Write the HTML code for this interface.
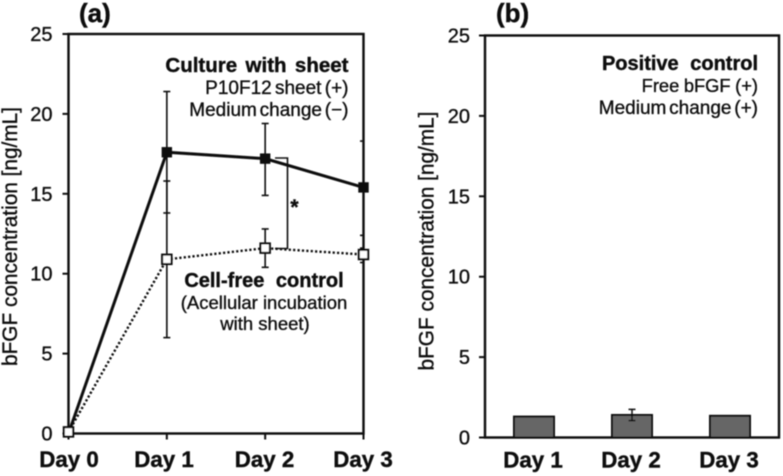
<!DOCTYPE html>
<html lang="en">
<head>
<meta charset="utf-8">
<title>bFGF concentration charts</title>
<style>
html,body{margin:0;padding:0;background:#fff;}
body{width:783px;height:476px;overflow:hidden;}
svg{display:block;font-family:"Liberation Sans",sans-serif;fill:#111;}
svg text{fill:#111;}
</style>
</head>
<body>
<svg id="chart" width="783" height="476" viewBox="0 0 783 476" xmlns="http://www.w3.org/2000/svg">
  <defs><filter id="soft" x="-2%" y="-2%" width="104%" height="104%"><feGaussianBlur stdDeviation="0.4"/></filter></defs>
  <g id="root" filter="url(#soft)"></g>
</svg>
<script>
const yTicks = [0, 5, 10, 15, 20, 25];
const daysA = ['Day 0', 'Day 1', 'Day 2', 'Day 3'];
const sheetMean = [0, 17.6, 17.2, 15.4];
const sheetUpper = [0, 21.4, 19.4, 18.3];
const sheetLower = [0, 13.8, 14.9, 12.4];
const freeMean = [0.1, 10.9, 11.6, 11.2];
const freeUpper = [0.1, 15.8, 12.8, 11.6];
const freeLower = [0.1, 6.0, 10.4, 10.7];
const daysB = ['Day 1', 'Day 2', 'Day 3'];
const barValues = [1.3, 1.4, 1.35];
const barUpper = [1.3, 1.75, 1.35];
const barLower = [1.3, 1.05, 1.35];

const NS = 'http://www.w3.org/2000/svg';
const root = document.getElementById('root');
function make(tag, attrs, name, text) {
  const el = document.createElementNS(NS, tag);
  for (const k in attrs) el.setAttribute(k, attrs[k]);
  
  
  if (text !== undefined) el.textContent = text;
  root.appendChild(el);
  return el;
}
function line(x1, y1, x2, y2, w, name) {
  return make('line', {x1, y1, x2, y2, stroke: '#111', 'stroke-width': w}, name);
}
function label(x, y, str, size, weight, anchor, name, wordSpacing) {
  const el = make('text', {x, y, 'font-size': size, 'font-weight': weight, 'text-anchor': anchor}, name, str);
  el.setAttribute('stroke', '#111');
  el.setAttribute('stroke-width', weight === 400 ? '0.35' : '0.4');
  if (wordSpacing) el.setAttribute('word-spacing', wordSpacing);
  return el;
}

/* Panel (a) axes */
const aL = 68.5, aR = 363.5, aT = 34, aB = 433.5;
const ya = v => aB - (v / 25) * (aB - aT);
const xa = i => aL + (i / 3) * (aR - aL);

/* Panel (b) axes */
const bL = 485, bR = 779, bT = 35.5, bB = 437.5;
const yb = v => bB - (v / 25) * (bB - bT);
const xb = i => 534 + i * 98;

function frame(L, R, T, B, yFn, prefix, gap) {
  make('rect', {x: L, y: T, width: R - L, height: B - T, fill: 'none', stroke: '#111', 'stroke-width': 2.4}, prefix + '-plot-frame');
  yTicks.forEach(t => {
    line(L - 6, yFn(t), L, yFn(t), 2, prefix + '-y-tick-' + t);
    label(L - gap, yFn(t) + 7, String(t), 20, 400, 'end', prefix + '-y-tick-label-' + t);
  });
}
frame(aL, aR, aT, aB, ya, 'a', 16);
frame(bL, bR, bT, bB, yb, 'b', 15);

/* Axis titles */
const tA = label(0, 0, 'bFGF concentration [ng/mL]', 20.8, 400, 'middle', 'a-y-axis-title');
tA.setAttribute('transform', 'translate(16.8,236.5) rotate(-90)');
const tB = label(0, 0, 'bFGF concentration [ng/mL]', 20.8, 400, 'middle', 'b-y-axis-title');
tB.setAttribute('transform', 'translate(433.5,241) rotate(-90)');

/* Panel titles */
label(79, 22, '(a)', 26, 700, 'start', 'a-panel-label');
label(496, 22, '(b)', 26, 700, 'start', 'b-panel-label');

/* Panel (a) x axis */
daysA.forEach((d, i) => {
  line(xa(i), aB, xa(i), aB + 6, 2, 'a-x-tick-' + i);
  const cx = i === 0 ? 69 : (i === 1 ? 164 : (i === 2 ? 264.5 : 363));
  label(cx, 467, d, 22.3, 700, 'middle', 'a-x-label-' + i);
});

/* Panel (a) error bars */
function errorBars(mean, up, low, name) {
  mean.forEach((m, i) => {
    if (up[i] === low[i]) return;
    const x = xa(i);
    const right = i === 3 ? x : x + 3.5;
    line(x, ya(up[i]), x, ya(low[i]), 1.6, name + '-error-bar-' + i);
    line(x - 3.5, ya(up[i]), right, ya(up[i]), 1.6, name + '-error-cap-upper-' + i);
    line(x - 3.5, ya(low[i]), right, ya(low[i]), 1.6, name + '-error-cap-lower-' + i);
  });
}
errorBars(sheetMean, sheetUpper, sheetLower, 'sheet');
errorBars(freeMean, freeUpper, freeLower, 'free');

/* Panel (a) series lines */
const pts = arr => arr.map((v, i) => xa(i) + ',' + ya(v)).join(' ');
make('polyline', {points: pts(freeMean), fill: 'none', stroke: '#111', 'stroke-width': 2.4, 'stroke-dasharray': '2.2 2.2'}, 'cell-free-control-line');
make('polyline', {points: pts(sheetMean), fill: 'none', stroke: '#111', 'stroke-width': 3}, 'culture-with-sheet-line');

/* Significance bracket */
make('polyline', {points: '275,158 287.5,158 287.5,248.5 275,248.5', fill: 'none', stroke: '#111', 'stroke-width': 1.6}, 'significance-bracket');
label(294.5, 214, '*', 21, 700, 'middle', 'significance-star');

/* Panel (a) markers */
sheetMean.forEach((v, i) => {
  if (i === 0) return;
  make('rect', {x: xa(i) - 4.7, y: ya(v) - 4.7, width: 9.4, height: 9.4, fill: '#111', stroke: '#111', 'stroke-width': 1}, 'sheet-marker-' + i);
});
freeMean.forEach((v, i) => {
  make('rect', {x: xa(i) - 4.7, y: ya(v) - 4.7, width: 9.4, height: 9.4, fill: '#fff', stroke: '#111', 'stroke-width': 2.1}, 'free-marker-' + i);
});

/* Panel (a) annotations */
label(348.5, 72, 'Culture with sheet', 20.5, 700, 'end', 'culture-with-sheet-title', 2.7);
label(348.5, 94, 'P10F12 sheet (+)', 19, 400, 'end', 'culture-with-sheet-line-1', -2);
label(348.5, 116, 'Medium change (−)', 19, 400, 'end', 'culture-with-sheet-line-2', -2.5);
label(264, 287, 'Cell-free control', 20, 700, 'middle', 'cell-free-title', 6);
label(264, 309, '(Acellular incubation', 18.5, 400, 'middle', 'cell-free-line-1');
label(265, 330, 'with sheet)', 18.5, 400, 'middle', 'cell-free-line-2');

/* Panel (b) bars */
barValues.forEach((v, i) => {
  make('rect', {x: xb(i) - 20, y: yb(v), width: 40, height: bB - yb(v), fill: '#666', stroke: '#111', 'stroke-width': 2}, 'b-bar-' + i);
  if (barUpper[i] !== barLower[i]) {
    line(xb(i), yb(barUpper[i]), xb(i), yb(barLower[i]), 1.5, 'b-error-bar-' + i);
    line(xb(i) - 3.5, yb(barUpper[i]), xb(i) + 3.5, yb(barUpper[i]), 1.5, 'b-error-cap-upper-' + i);
    line(xb(i) - 3.5, yb(barLower[i]), xb(i) + 3.5, yb(barLower[i]), 1.5, 'b-error-cap-lower-' + i);
  }
});
daysB.forEach((d, i) => {
  label(xb(i) - 1, 467.5, d, 22.3, 700, 'middle', 'b-x-label-' + i);
});

/* Panel (b) annotations */
label(758, 70, 'Positive control', 20, 700, 'end', 'positive-control-title', 6);
label(758, 92, 'Free bFGF (+)', 18.3, 400, 'end', 'positive-control-line-1', -0.5);
label(758, 114, 'Medium change (+)', 19, 400, 'end', 'positive-control-line-2', -2.5);
</script>
</body>
</html>
